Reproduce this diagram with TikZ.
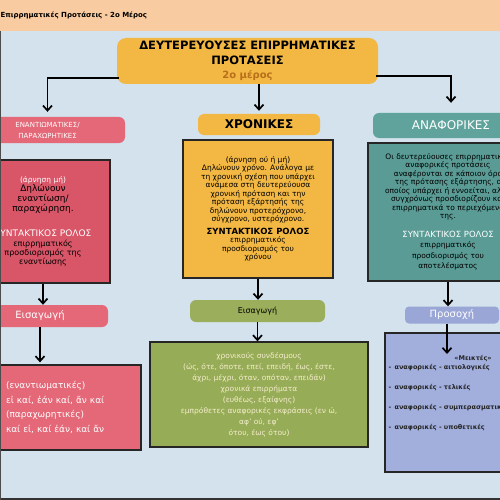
\documentclass[tikz,border=0pt]{standalone}
\usepackage{fontspec}
\setmainfont{DejaVu Sans}
\usetikzlibrary{arrows.meta}
\definecolor{cBlue}{HTML}{D3E2EC}
\definecolor{cPeach}{HTML}{F8CBA0}
\definecolor{cOrange}{HTML}{F3B843}
\definecolor{cBrown}{HTML}{B86F1A}
\definecolor{cPink}{HTML}{E46878}
\definecolor{cPinkD}{HTML}{D95568}
\definecolor{cTeal}{HTML}{5FA39C}
\definecolor{cTealD}{HTML}{5A9C95}
\definecolor{cGreen}{HTML}{9BAE5B}
\definecolor{cGreenD}{HTML}{97AC57}
\definecolor{cCream}{HTML}{F4EDCB}
\definecolor{cLav}{HTML}{9AA6D6}
\definecolor{cLavD}{HTML}{A2AFDD}
\begin{document}
\begin{tikzpicture}[x=1pt,y=-1pt,
  tag/.style={rounded corners=6pt,inner sep=1pt,align=center},
  card/.style={draw=black!85,line width=1.3pt,inner sep=4pt,align=center,font=\fontsize{7.5}{8.5}\selectfont},
  mk/.style={anchor=west,text=black!85,font=\bfseries\fontsize{6.5}{8}\selectfont},
  arr/.style={line width=1.7pt,-{Straight Barb[length=5pt,width=9pt]}}]
\useasboundingbox (0,0) rectangle (500,500);
\clip (0,0) rectangle (500,500);
% background and header
\fill[cBlue] (0,0) rectangle (500,500);
\fill[cPeach] (0,0) rectangle (500,31);
\node[anchor=west,font=\bfseries\fontsize{7}{8}\selectfont] (head) at (-3,15) {Επιρρηματικές Προτάσεις - 2ο Μέρος};
% title
\node[tag,fill=cOrange,minimum width=261pt,minimum height=46pt,rounded corners=9pt,font=\bfseries\fontsize{11.5}{14.5}\selectfont] (title) at (247.5,61)
  {ΔΕΥΤΕΡΕΥΟΥΣΕΣ ΕΠΙΡΡΗΜΑΤΙΚΕΣ\\ΠΡΟΤΑΣΕΙΣ\\{\color{cBrown}\fontsize{10}{14.5}\selectfont 2ο μέρος}};
% column labels
\node[tag,fill=cPink,text=white,minimum width=155pt,minimum height=26pt,font=\fontsize{7}{11}\selectfont] (enan) at (47.5,130) {ΕΝΑΝΤΙΩΜΑΤΙΚΕΣ/\\ΠΑΡΑΧΩΡΗΤΙΚΕΣ};
\node[tag,fill=cOrange,minimum width=122pt,minimum height=21pt,font=\bfseries\fontsize{12}{13}\selectfont] (xron) at (259,124.5) {ΧΡΟΝΙΚΕΣ};
\node[tag,fill=cTeal,text=white,minimum width=156pt,minimum height=25pt,font=\fontsize{12}{13}\selectfont] (anaf) at (451,125.5) {ΑΝΑΦΟΡΙΚΕΣ};
% content cards
\node[card,fill=cPinkD,minimum width=134pt,minimum height=123pt,font=\fontsize{8}{9}\selectfont] (enanbox) at (43,221.5)
  {\textcolor{white}{\fontsize{7.5}{9}\selectfont(άρνηση μή)}\\{\fontsize{9}{9}\selectfont Δηλώνουν}\\{\fontsize{9}{9}\selectfont εναντίωση/}\\{\fontsize{9}{9}\selectfont παραχώρηση.}\\[16pt]
   \textcolor{white}{\fontsize{9}{9}\selectfont ΣΥΝΤΑΚΤΙΚΟΣ ΡΟΛΟΣ}\\[1pt]επιρρηματικός\\προσδιορισμός της\\εναντίωσης};
\node[card,fill=cOrange,minimum width=150pt,minimum height=138pt] (xronbox) at (258,209)
  {(άρνηση ού ή μή)\\Δηλώνουν χρόνο. Ανάλογα με\\τη χρονική σχέση που υπάρχει\\ανάμεσα στη δευτερεύουσα\\χρονική πρόταση και την\\πρόταση εξάρτησής της\\δηλώνουν προτερόχρονο,\\σύγχρονο, υστερόχρονο.\\[4pt]
   {\bfseries\fontsize{8.5}{8.5}\selectfont ΣΥΝΤΑΚΤΙΚΟΣ ΡΟΛΟΣ}\\επιρρηματικός\\προσδιορισμός του\\χρόνου};
\node[card,fill=cTealD,minimum width=160pt,minimum height=138pt] (anafbox) at (448,212)
  {Οι δευτερεύουσες επιρρηματικές\\αναφορικές προτάσεις\\αναφέρονται σε κάποιον όρο\\της πρότασης εξάρτησης, ο\\οποίος υπάρχει ή εννοείται, αλλά\\συγχρόνως προσδιορίζουν και\\επιρρηματικά το περιεχόμενό\\της.\\[10pt]
   \textcolor{white}{\fontsize{8.5}{8.5}\selectfont ΣΥΝΤΑΚΤΙΚΟΣ ΡΟΛΟΣ}\\[2pt]επιρρηματικός\\[2pt]προσδιορισμός του\\[2pt]αποτελέσματος};
% second row labels
\node[tag,fill=cPink,text=white,minimum width=136pt,minimum height=22pt,font=\fontsize{10}{11}\selectfont] (eis1) at (40,316) {Εισαγωγή};
\node[tag,fill=cGreen,minimum width=135pt,minimum height=22pt,font=\fontsize{8}{9}\selectfont] (eis2) at (257.5,311) {Εισαγωγή};
\node[tag,fill=cLav,text=white,minimum width=94pt,minimum height=17pt,rounded corners=4pt,font=\fontsize{10}{11}\selectfont] (pros) at (452,315) {Προσοχή};
% bottom cards
\node[card,fill=cPink,text=white,align=left,text width=127pt,inner xsep=8pt,minimum height=85pt,font=\fontsize{9}{14.5}\selectfont] (b1) at (69.5,407.5)
  {(εναντιωματικές)\\εἰ καί, ἐάν καί, ἄν καί\\(παραχωρητικές)\\καί εἰ, καί ἐάν, καί ἄν};
\node[card,fill=cGreenD,text=cCream,minimum width=218pt,minimum height=105pt,font=\fontsize{7.5}{11}\selectfont] (b2) at (259,394.5)
  {χρονικούς συνδέσμους\\(ώς, ότε, όποτε, επεί, επειδή, έως, έστε,\\άχρι, μέχρι, όταν, οπόταν, επειδάν)\\χρονικά επιρρήματα\\(ευθέως, εξαίφνης)\\εμπρόθετες αναφορικές εκφράσεις (εν ώ,\\αφ' ού, εφ'\\ότου, έως ότου)};
\node[card,fill=cLavD,minimum width=145pt,minimum height=139pt] (b3) at (457.5,402.5) {};
\node[mk,anchor=center] (meik) at (473,359) {«Μεικτές»};
\foreach \w [count=\i] in {αιτιολογικές, τελικές, συμπερασματικές, υποθετικές}
  \node[mk] (m\i) at (385,348+20*\i) {-\, αναφορικές - \w};
% arrows
\draw[arr,shorten >=5pt] ([xshift=2pt,yshift=6pt]title.south west) -| (enan.north);
\draw[arr,shorten >=3pt] (title.south -| xron.north) -- (xron.north);
\draw[arr,shorten >=10pt] ([xshift=-2pt,yshift=8pt]title.south east) -| (anaf.north);
\draw[arr] (enanbox.south) -- (enanbox.south |- eis1.north);
\draw[arr,shorten >=2pt] (eis1.south) -- (eis1.south |- b1.north);
\draw[arr] (xronbox.south) -- (xronbox.south |- eis2.north);
\draw[arr] (eis2.south) -- (eis2.south |- b2.north);
\draw[arr] (anafbox.south) -- (anafbox.south |- pros.north);
\coordinate (mtip) at (447,354);
\draw[arr] (pros.south -| mtip) -- (mtip);
% frame edges
\fill[black!80] (0,497.5) rectangle (500,500);
\fill[black!70] (0,31) rectangle (1.2,500);
\end{tikzpicture}
\end{document}
